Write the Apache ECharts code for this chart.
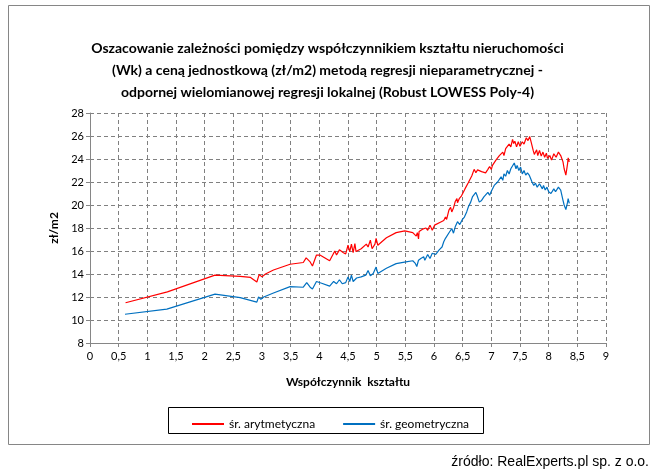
<!DOCTYPE html>
<html><head><meta charset="utf-8">
<script src="https://cdn.jsdelivr.net/npm/echarts@6/dist/echarts.min.js"></script>
<style>html,body{margin:0;padding:0;background:#fff}#c{width:655px;height:473px}</style>
</head><body><div id="c"></div>
<script>
const titleText = 'Oszacowanie zależności pomiędzy współczynnikiem kształtu nieruchomości\n(Wk) a ceną jednostkową (zł/m2) metodą regresji nieparametrycznej -\nodpornej wielomianowej regresji lokalnej (Robust LOWESS Poly-4)';
const xName = 'Współczynnik  kształtu';
const yName = 'zł/m2';
const seriesNames = ['śr. arytmetyczna', 'śr. geometryczna'];
const sourceText = 'źródło: RealExperts.pl sp. z o.o.';

const arithX = [0.62,1.35,2.18,2.62,2.80,2.91,2.95,3.0,3.06,3.2,3.49,3.72,3.77,3.84,3.88,3.95,4.01,4.18,4.27,4.3,4.35,4.42,4.46,4.5,4.53,4.56,4.59,4.62,4.64,4.73,4.82,4.85,4.89,4.92,4.97,4.99,5.02,5.17,5.34,5.49,5.63,5.69,5.71,5.73,5.74,5.8,5.86,5.89,5.93,5.97,6.01,6.11,6.17,6.2,6.22,6.26,6.29,6.31,6.34,6.37,6.4,6.41,6.44,6.48,6.54,6.6,6.66,6.7,6.73,6.76,6.83,6.9,6.94,6.97,7.0,7.02,7.05,7.08,7.11,7.14,7.17,7.2,7.22,7.25,7.28,7.31,7.34,7.37,7.39,7.41,7.44,7.47,7.5,7.54,7.57,7.61,7.64,7.67,7.7,7.73,7.75,7.79,7.81,7.84,7.87,7.9,7.93,7.96,7.98,8.02,8.05,8.09,8.13,8.17,8.21,8.25,8.27,8.3,8.33,8.34,8.36];
const arithY = [11.5,12.45,13.9,13.8,13.7,13.3,13.95,13.75,14.0,14.35,14.85,15.0,15.4,15.05,14.7,15.65,15.65,15.15,16.0,15.65,16.1,15.85,15.75,16.5,15.95,16.6,15.85,16.65,15.95,16.2,16.6,16.35,16.95,16.2,16.6,17.1,16.5,17.15,17.6,17.75,17.6,17.3,17.6,17.05,17.7,17.9,18.0,17.8,18.25,17.8,18.25,18.5,18.65,18.95,18.75,19.55,19.8,19.4,19.75,20.3,20.55,20.2,20.55,20.8,21.4,21.95,22.55,23.1,22.8,23.05,22.9,22.8,23.1,23.35,23.1,23.45,23.3,23.9,23.75,24.3,24.15,24.6,24.3,24.9,24.75,25.3,25.05,25.7,25.35,25.55,25.05,25.5,25.1,25.5,25.3,25.85,25.6,25.95,25.35,24.75,24.4,24.8,24.3,24.75,24.25,24.6,24.15,24.5,24.05,24.3,23.9,24.45,24.15,24.6,24.3,23.75,23.15,22.6,23.6,24.1,23.75];

const geomX = [0.61,1.34,2.18,2.62,2.91,2.94,2.98,3.03,3.2,3.49,3.72,3.78,3.84,3.88,3.95,4.04,4.18,4.25,4.3,4.35,4.4,4.46,4.5,4.53,4.56,4.59,4.65,4.73,4.81,4.85,4.89,4.94,4.99,5.02,5.17,5.34,5.51,5.63,5.67,5.7,5.73,5.77,5.82,5.84,5.89,5.93,5.97,6.03,6.09,6.14,6.17,6.2,6.23,6.27,6.31,6.34,6.37,6.41,6.45,6.49,6.53,6.57,6.6,6.64,6.67,6.7,6.73,6.75,6.79,6.83,6.87,6.9,6.94,6.97,7.0,7.02,7.05,7.08,7.11,7.14,7.17,7.2,7.22,7.25,7.28,7.31,7.34,7.37,7.4,7.43,7.45,7.48,7.51,7.54,7.57,7.6,7.63,7.66,7.68,7.71,7.74,7.77,7.8,7.84,7.89,7.91,7.94,7.97,8.0,8.04,8.09,8.12,8.17,8.21,8.25,8.27,8.3,8.33,8.34,8.36];
const geomY = [10.5,10.95,12.25,11.95,11.55,12.0,11.8,12.0,12.35,12.9,12.85,13.25,12.85,12.7,13.35,13.2,12.95,13.35,13.15,13.5,13.15,13.25,13.75,13.35,13.9,13.35,13.65,13.75,13.9,14.3,13.85,14.05,14.6,14.05,14.5,14.9,15.05,15.15,14.95,14.65,15.2,15.35,15.5,15.2,15.7,15.35,15.8,15.7,16.1,16.35,16.8,17.1,16.95,17.65,17.95,17.55,18.1,18.55,18.3,18.7,18.95,19.4,19.85,20.25,20.7,20.55,21.1,20.85,20.25,20.4,20.7,20.55,21.1,20.85,21.2,21.3,21.7,21.55,22.0,21.85,22.45,22.15,22.7,22.5,23.0,22.7,23.15,23.0,23.65,23.15,23.45,23.0,23.3,22.7,23.0,22.6,22.8,22.6,22.7,22.0,21.7,21.9,21.55,21.85,21.4,21.7,21.3,21.55,21.15,21.0,21.4,21.15,21.55,21.3,20.4,20.0,19.6,20.25,20.55,20.15];

const zip = (xs, ys) => xs.map((x, i) => [x, ys[i]]);
const FONT = 'Lato, "Liberation Sans", sans-serif';

const chart = echarts.init(document.getElementById('c'), null, {renderer: 'canvas'});
chart.setOption({
  animation: false,
  backgroundColor: '#fff',
  title: {
    text: titleText, left: 'center', top: 32,
    textStyle: {fontFamily: FONT, fontWeight: 'bold', fontSize: 14, lineHeight: 22, color: '#000', align: 'center'}
  },
  grid: {left: 90, right: 49, top: 113, bottom: 130},
  xAxis: {
    type: 'value', min: 0, max: 9, interval: 0.5,
    name: xName, nameLocation: 'middle', nameGap: 33,
    nameTextStyle: {fontFamily: FONT, fontWeight: 'bold', fontSize: 12, color: '#000'},
    axisLine: {show: true, lineStyle: {color: '#868686'}},
    axisTick: {show: true, length: 4, lineStyle: {color: '#868686'}},
    axisLabel: {fontFamily: FONT, fontSize: 11, color: '#000', margin: 8,
      formatter: v => String(v).replace('.', ',')},
    splitLine: {show: true, lineStyle: {color: '#808080', type: [4, 3], width: 1}}
  },
  yAxis: {
    type: 'value', min: 8, max: 28, interval: 2,
    name: yName, nameLocation: 'middle', nameGap: 26, nameRotate: 90,
    nameTextStyle: {fontFamily: FONT, fontWeight: 'bold', fontSize: 12, color: '#000'},
    axisLine: {show: true, lineStyle: {color: '#868686'}},
    axisTick: {show: true, length: 4, lineStyle: {color: '#868686'}},
    axisLabel: {fontFamily: FONT, fontSize: 11, color: '#000', margin: 6},
    splitLine: {show: true, lineStyle: {color: '#808080', type: [4, 3], width: 1}}
  },
  legend: {
    left: 187, top: 413, itemWidth: 32, itemHeight: 2, itemGap: 28, icon: 'rect',
    textStyle: {fontFamily: FONT, fontSize: 12, color: '#000'},
    data: seriesNames
  },
  graphic: [
    {type: 'rect', shape: {x: 8.5, y: 5.5, width: 641, height: 439}, style: {fill: 'none', stroke: '#868686', lineWidth: 1}, silent: true, z: -1},
    {type: 'rect', shape: {x: 168.5, y: 407.5, width: 315, height: 26}, style: {fill: 'none', stroke: '#000', lineWidth: 1}, silent: true},
    {type: 'text', right: 6, top: 455, style: {text: sourceText, font: '14px "Liberation Sans", Arial, sans-serif', fill: '#000'}}
  ],
  series: [
    {name: seriesNames[0], type: 'line', data: zip(arithX, arithY), showSymbol: false, symbol: 'none',
      lineStyle: {color: '#FF0000', width: 1.2}, itemStyle: {color: '#FF0000'}},
    {name: seriesNames[1], type: 'line', data: zip(geomX, geomY), showSymbol: false, symbol: 'none',
      lineStyle: {color: '#0070C0', width: 1.2}, itemStyle: {color: '#0070C0'}}
  ]
});
</script></body></html>
